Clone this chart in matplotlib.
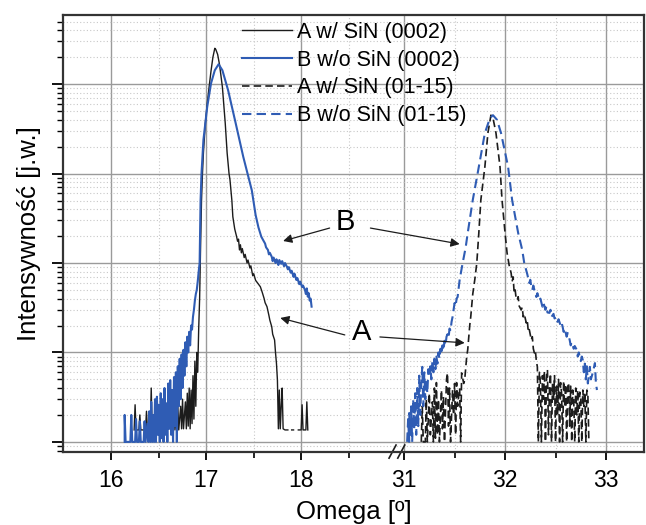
import matplotlib
matplotlib.use("Agg")
import matplotlib.pyplot as plt
import numpy as np

plt.rcParams['font.family'] = ['Liberation Sans', 'DejaVu Sans']

# omega [deg], intensity [a.u.]
a_0002 = [(16.24, 13.6), (16.25, 26), (16.26, 13.6), (16.29, 13.6), (16.30, 20), (16.31, 13.6),
          (16.36, 13.6), (16.37, 22), (16.38, 13.6), (16.41, 13.6), (16.42, 40), (16.43, 13.6),
          (16.46, 18), (16.47, 13.6), (16.50, 25), (16.51, 13.6), (16.54, 20), (16.55, 13.6),
          (16.58, 24), (16.59, 13.6), (16.62, 18), (16.63, 13.6), (16.66, 22), (16.67, 13.6),
          (16.70, 26), (16.71, 13.6), (16.73, 25), (16.74, 14), (16.75, 30), (16.76, 14),
          (16.78, 28), (16.79, 14), (16.80, 35), (16.81, 15), (16.82, 40), (16.83, 14),
          (16.84, 38), (16.85, 16), (16.86, 55), (16.87, 18), (16.88, 80), (16.89, 25),
          (16.90, 100), (16.91, 60), (16.92, 180), (16.93, 400), (16.94, 1500), (16.95, 5000),
          (16.96, 10000), (16.97, 17000), (16.99, 36600), (17.01, 60000), (17.03, 93000),
          (17.05, 140000), (17.07, 200000), (17.09, 252000), (17.10, 245000), (17.12, 215000),
          (17.14, 165000), (17.17, 93000), (17.20, 36600), (17.22, 17000), (17.24, 10000),
          (17.25, 8500), (17.27, 5000), (17.28, 3300), (17.30, 2400), (17.32, 1970), (17.33, 1750),
          (17.34, 1850), (17.35, 1400), (17.36, 1600), (17.37, 1300), (17.38, 1450), (17.40, 1150),
          (17.41, 1250), (17.43, 1000), (17.44, 1080), (17.46, 880), (17.47, 930), (17.49, 720),
          (17.50, 760), (17.52, 640), (17.54, 600), (17.57, 543), (17.59, 470), (17.61, 400),
          (17.62, 360), (17.64, 325), (17.66, 260), (17.67, 230), (17.69, 194), (17.70, 160),
          (17.72, 138), (17.73, 99), (17.74, 75), (17.75, 49), (17.76, 14), (17.77, 38),
          (17.78, 14), (17.79, 25), (17.80, 40), (17.81, 14), (17.83, 13.6), (17.86, 13.6),
          (17.87, np.nan), (17.90, 13.6), (17.92, 13.6), (17.93, np.nan), (17.97, 13.6),
          (18.00, 13.6), (18.01, 26), (18.02, 13.6), (18.05, 13.6), (18.06, 28), (18.07, 13.6)]

b_0002 = [(16.14, 10), (16.14, 20), (16.15, 10), (16.20, 10), (16.21, 20), (16.22, 10),
          (16.25, 10), (16.26, 18), (16.27, 10), (16.29, 10), (16.30, 17), (16.31, 10),
          (16.34, 10), (16.35, 17), (16.36, 10), (16.38, 16), (16.39, 10), (16.40, 22),
          (16.41, 10), (16.42, 28), (16.43, 10), (16.44, 20), (16.45, 10), (16.46, 30),
          (16.47, 10), (16.48, 32), (16.49, 12), (16.50, 26), (16.51, 10), (16.52, 35),
          (16.53, 11), (16.54, 30), (16.55, 10), (16.56, 40), (16.57, 12), (16.58, 27),
          (16.59, 10), (16.60, 45), (16.61, 14), (16.62, 49), (16.63, 12), (16.64, 38),
          (16.65, 10), (16.66, 53), (16.67, 15), (16.68, 60), (16.69, 10), (16.70, 70),
          (16.71, 25), (16.72, 85), (16.73, 30), (16.74, 95), (16.75, 40), (16.76, 107),
          (16.77, 55), (16.78, 130), (16.79, 70), (16.80, 150), (16.81, 100), (16.82, 170),
          (16.83, 120), (16.84, 200), (16.85, 180), (16.86, 250), (16.87, 300), (16.88, 380),
          (16.89, 450), (16.90, 500), (16.91, 620), (16.92, 800), (16.93, 1000), (16.94, 5000),
          (16.95, 10100), (16.97, 23700), (17.01, 55700), (17.05, 102000), (17.09, 143000),
          (17.13, 167000), (17.17, 143000), (17.23, 85700), (17.31, 36600), (17.39, 15400),
          (17.48, 6500), (17.52, 3450), (17.55, 2500), (17.58, 1970), (17.60, 1800),
          (17.62, 1650), (17.63, 1500), (17.65, 1400), (17.66, 1250), (17.67, 1300),
          (17.69, 1175), (17.70, 1050), (17.71, 1150), (17.73, 1000), (17.74, 1100),
          (17.75, 1035), (17.76, 950), (17.77, 1080), (17.79, 980), (17.80, 1050), (17.82, 920),
          (17.83, 1000), (17.85, 909), (17.86, 850), (17.87, 900), (17.89, 780), (17.90, 820),
          (17.92, 700), (17.93, 760), (17.95, 646), (17.96, 680), (17.98, 580), (17.99, 620),
          (18.01, 540), (18.02, 560), (18.04, 500), (18.05, 450), (18.06, 520), (18.07, 420),
          (18.08, 460), (18.09, 380), (18.10, 400), (18.11, 325)]

a_0115 = [(31.17, 10), (31.18, 25), (31.19, 10), (31.21, 10), (31.22, 30), (31.23, 10),
          (31.25, 35), (31.26, 12), (31.28, 28), (31.29, 10), (31.30, 40), (31.31, 11),
          (31.32, 46), (31.33, 12), (31.34, 30), (31.35, 10), (31.37, 38), (31.38, 14),
          (31.39, 32), (31.40, 10), (31.42, 50), (31.43, 59), (31.44, 15), (31.45, 40),
          (31.46, 10), (31.48, 38), (31.49, 20), (31.50, 45), (31.51, 12), (31.52, 46),
          (31.53, 25), (31.55, 40), (31.56, 10), (31.57, 59), (31.59, 45), (31.60, 49),
          (31.62, 90), (31.63, 107), (31.65, 200), (31.66, 250), (31.68, 450), (31.70, 650),
          (31.72, 1000), (31.74, 2163), (31.76, 5058), (31.80, 11900), (31.83, 28400),
          (31.86, 45000), (31.88, 42000), (31.91, 28400), (31.95, 11900), (31.97, 5058),
          (32.00, 2163), (32.02, 1294), (32.04, 950), (32.06, 773), (32.07, 620), (32.08, 700),
          (32.09, 462), (32.10, 500), (32.11, 400), (32.12, 386), (32.13, 420), (32.14, 330),
          (32.16, 299), (32.17, 320), (32.18, 250), (32.19, 270), (32.21, 214), (32.22, 230),
          (32.23, 170), (32.24, 180), (32.26, 138), (32.27, 150), (32.28, 110), (32.29, 99),
          (32.30, 105), (32.31, 80), (32.32, 69), (32.33, 10), (32.34, 60), (32.35, 45),
          (32.36, 10), (32.37, 55), (32.38, 30), (32.39, 62), (32.40, 10), (32.41, 50),
          (32.42, 64), (32.43, 12), (32.44, 40), (32.45, 58), (32.46, 10), (32.47, 45),
          (32.48, 30), (32.49, 55), (32.50, 10), (32.51, 42), (32.52, 20), (32.53, 50),
          (32.54, 10), (32.55, 46), (32.56, 35), (32.57, 10), (32.58, 48), (32.59, 25),
          (32.60, 44), (32.61, 10), (32.62, 40), (32.63, 46), (32.64, 15), (32.65, 42),
          (32.66, 10), (32.67, 38), (32.68, 30), (32.69, 10), (32.70, 40), (32.71, 20),
          (32.72, 38), (32.73, 10), (32.74, 36), (32.75, 30), (32.76, 10), (32.77, 38),
          (32.78, 25), (32.79, 36), (32.80, 10), (32.81, 38), (32.82, 35), (32.83, 10)]

b_0115 = [(31.03, 10), (31.04, 18), (31.05, 10), (31.05, 21), (31.06, 12), (31.07, 25),
          (31.08, 10), (31.09, 30), (31.10, 14), (31.11, 35), (31.12, 12), (31.13, 40),
          (31.14, 15), (31.15, 55), (31.16, 20), (31.17, 45), (31.18, 69), (31.19, 25),
          (31.20, 60), (31.21, 30), (31.22, 50), (31.23, 35), (31.24, 65), (31.25, 54),
          (31.26, 70), (31.27, 50), (31.28, 80), (31.29, 60), (31.30, 85), (31.31, 65),
          (31.32, 90), (31.33, 75), (31.34, 100), (31.35, 85), (31.36, 110), (31.37, 95),
          (31.38, 120), (31.39, 105), (31.40, 135), (31.41, 120), (31.42, 150), (31.43, 160),
          (31.44, 145), (31.45, 185), (31.46, 175), (31.47, 220), (31.48, 250), (31.49, 300),
          (31.50, 357), (31.51, 330), (31.52, 400), (31.53, 417), (31.54, 520), (31.55, 646),
          (31.56, 750), (31.58, 1000), (31.61, 1500), (31.63, 2163), (31.68, 5058),
          (31.74, 11900), (31.80, 28400), (31.85, 41700), (31.88, 45000), (31.92, 40000),
          (31.96, 28400), (32.03, 11900), (32.07, 5058), (32.13, 2163), (32.17, 1400),
          (32.19, 1000), (32.22, 750), (32.24, 598), (32.25, 650), (32.26, 543), (32.27, 500),
          (32.28, 560), (32.30, 450), (32.31, 417), (32.32, 460), (32.34, 380), (32.35, 400),
          (32.37, 325), (32.38, 360), (32.40, 300), (32.41, 330), (32.42, 280), (32.44, 277),
          (32.45, 300), (32.46, 250), (32.48, 270), (32.49, 240), (32.51, 249), (32.52, 220),
          (32.53, 235), (32.55, 200), (32.56, 215), (32.57, 194), (32.58, 170), (32.59, 185),
          (32.61, 150), (32.62, 165), (32.64, 138), (32.65, 120), (32.66, 130), (32.68, 110),
          (32.69, 118), (32.71, 107), (32.72, 90), (32.73, 100), (32.75, 80), (32.76, 90),
          (32.77, 82), (32.78, 60), (32.79, 75), (32.80, 50), (32.81, 70), (32.82, 45),
          (32.84, 69), (32.85, 50), (32.87, 60), (32.89, 76), (32.90, 45), (32.91, 38)]

labels = ['A w/ SiN (0002)', 'B w/o SiN (0002)', 'A w/ SiN (01-15)', 'B w/o SiN (01-15)']
xticks = [16, 17, 18, 31, 32, 33]
xminor = [16.5, 17.5, 18.5, 31.5, 32.5]

# arrows: (tail, head) in data
arrows_B = [((18.30, 2460), (17.81, 1763)), ((18.73, 2460), (31.55, 1630))]
arrows_A = [((18.46, 157), (17.78, 243)), ((18.83, 149), (31.60, 128))]

# broken x axis: 15.5..19 | 30.92..33.4
brk_l, brk_r, k = 19.0, 30.92, 1.064


def fwd(x):
    x = np.asarray(x, dtype=float)
    return np.where(x <= brk_l, x, brk_l + np.clip(x - brk_r, 0, None) * k)


def inv(u):
    u = np.asarray(u, dtype=float)
    return np.where(u <= brk_l, u, brk_r + (u - brk_l) / k)


blue = '#2f5cb4'
black = '#1c1c1c'

fig = plt.figure(figsize=(6.46, 5.25), dpi=100)
ax = fig.add_axes([0.0975, 0.139, 0.9, 0.832])
ax.set_xscale('function', functions=(fwd, inv))
ax.set_yscale('log')

series = [(a_0002, black, '-', 1.0), (b_0002, blue, '-', 1.5),
          (a_0115, black, (0, (4.5, 2.5)), 1.2), (b_0115, blue, (0, (4.5, 2.5)), 1.5)]
for (data, c, ls, lw), lab in zip(series, labels):
    xs, ys = np.array(data).T
    ax.plot(xs, ys, color=c, linestyle=ls, lw=lw, label=lab)

ax.set_xlim(15.49, 33.38)
ax.set_ylim(7.7, 5.9e5)
ax.set_xticks(xticks)
ax.set_xticks(xminor, minor=True)
ax.yaxis.set_major_formatter(plt.NullFormatter())
ax.yaxis.set_minor_formatter(plt.NullFormatter())
ax.tick_params(axis='x', which='major', direction='out', length=6, width=1.3, labelsize=16.5, pad=6)
ax.tick_params(axis='x', which='minor', direction='out', length=4, width=1.2)
ax.tick_params(axis='y', which='major', direction='out', length=8, width=1.3)
ax.tick_params(axis='y', which='minor', direction='out', length=4, width=1.0)

ax.grid(True, which='major', color='#9a9a9a', lw=1.0)
ax.grid(True, which='minor', color='#c8c8c8', lw=0.8, linestyle=(0, (1, 2)))
for s in ax.spines.values():
    s.set_color('#333333')
    s.set_linewidth(1.6)

ax.set_xlabel('Omega [º]', fontsize=18.5, labelpad=6)
ax.set_ylabel('Intensywność [j.w.]', fontsize=18.5, labelpad=4)

leg = ax.legend(loc='upper left', bbox_to_anchor=(0.29, 1.01), frameon=False, fontsize=15.5,
                handlelength=2.3, handletextpad=0.25, labelspacing=0.32, borderaxespad=0.1)

for tail, head in arrows_B + arrows_A:
    ax.annotate('', xy=head, xytext=tail,
                arrowprops=dict(arrowstyle='-|>', color=black, lw=0.9, mutation_scale=13,
                                shrinkA=0, shrinkB=0))
ax.text(18.47, 2870, 'B', fontsize=21, ha='center', va='center')
ax.text(18.64, 169, 'A', fontsize=21, ha='center', va='center')

# break marks on the bottom spine
fig.canvas.draw()
bx = ax.transAxes.inverted().transform(ax.transData.transform((brk_l, 10)))[0]
for dx in (-0.006, 0.009):
    ax.plot([bx + dx - 0.006, bx + dx + 0.006], [-0.014, 0.016], color=black, lw=1.2,
            transform=ax.transAxes, clip_on=False)

fig.savefig('out.png', dpi=100)
